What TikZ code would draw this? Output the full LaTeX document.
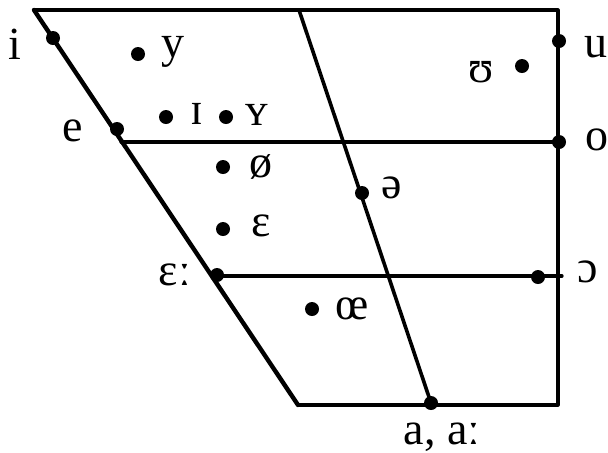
\documentclass[tikz,border=0pt]{standalone}
\usepackage{fontspec}
\setmainfont{Liberation Serif}
\begin{document}
\begin{tikzpicture}[x=0.5pt,y=-0.5pt,
  dot/.style={circle,fill=black,inner sep=0pt,minimum size=7pt},
  lab/.style={inner sep=0pt,font=\fontsize{23}{23}\selectfont},
  edge/.style={line width=1.6pt,line cap=round,line join=round}]
\useasboundingbox (0,0) rectangle (608,452);
% frame corners
\coordinate (TL) at (34,10);
\coordinate (TR) at (558,10);
\coordinate (BR) at (558,405);
\coordinate (BL) at (298,405);
\coordinate (MT) at (299,10);
\coordinate (H1L) at (121,142);
\coordinate (H1R) at (558,142);
\coordinate (H2L) at (212,276);
\coordinate (H2R) at (562,276);
% frame
\draw[edge] (TL) -- (TR) -- (BR) -- (BL);
\draw[edge,line width=2.2pt] (TL) -- (BL);
\draw[edge] (H1L) -- (H1R);
\draw[edge] (H2L) -- (H2R);
% dots
\node[dot] (di) at (53,38) {};
\node[dot] (dy) at (138,54) {};
\node[dot] (dI) at (166,117) {};
\node[dot] (dY) at (226,117) {};
\node[dot] (de) at (117,129) {};
\node[dot] (doe2) at (223,167) {};
\node[dot] (deps) at (223,229) {};
\node[dot] (depsl) at (217,275) {};
\node[dot] (doe) at (312,309) {};
\node[dot] (dschwa) at (362,193) {};
\node[dot] (dupsilon) at (522,66) {};
\node[dot] (du) at (559,41) {};
\node[dot] (do) at (559,142) {};
\node[dot] (dopen) at (538,277) {};
\node[dot] (da) at (431,403) {};
% central line
\draw[edge,line width=1.8pt] (MT) -- (da.center);
% labels
\node[lab] (li) at (15,44) {i};
\node[lab] (ly) at (173,52) {y};
\node[lab] (lI) at (197,114) {ɪ};
\node[lab] (lY) at (257,115) {ʏ};
\node[lab] (le) at (73,131) {e};
\node[lab] (loe2) at (261,167) {ø};
\node[lab] (leps) at (261,226) {ɛ};
\node[lab] (lepsl) at (175,275) {ɛː};
\node[lab] (loe) at (352,309) {œ};
\node[lab] (lschwa) at (392,188) {ə};
\node[lab] (lupsilon) at (481,72) {ʊ};
\node[lab] (lu) at (596,47) {u};
\node[lab] (lo) at (597,140) {o};
\node[lab] (lopen) at (588,272) {ɔ};
\node[lab] (la) at (442,437) {a, aː};
\end{tikzpicture}
\end{document}
